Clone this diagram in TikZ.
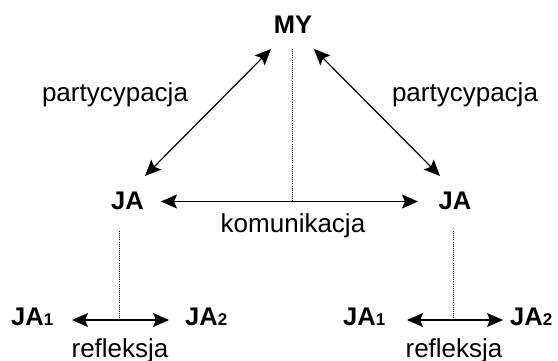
\documentclass[tikz,border=0pt]{standalone}
\usepackage{fontspec}
\setmainfont{Liberation Sans}
\usetikzlibrary{arrows.meta}
\tikzset{
  bigtext/.style={inner sep=0pt, font=\fontsize{26}{30}\selectfont},
  boldtext/.style={inner sep=0pt, font=\fontsize{25.5}{30}\selectfont\bfseries},
  tip/.style={Stealth[length=16pt,width=14pt,inset=3pt]},
  arr/.style={line width=1.2pt, {Stealth[length=16pt,width=14pt,inset=3pt]}-{Stealth[length=16pt,width=14pt,inset=3pt]}},
  dotline/.style={line width=0.8pt, dash pattern=on 0.9pt off 1.2pt}
}
\newcommand{\smalldigit}[1]{{\fontsize{17}{20}\selectfont\bfseries #1}}
\begin{document}
\begin{tikzpicture}[x=1pt,y=-1pt]
\useasboundingbox (0,0) rectangle (558,360);
\clip (0,0) rectangle (558,360);
\fill[white] (0,0) rectangle (558,360);

% top
\node[boldtext, anchor=base] (my) at (293,33) {MY};
\node[bigtext, anchor=base] (partL) at (115,101) {partycypacja};
\node[bigtext, anchor=base] (partR) at (465,101) {partycypacja};

% middle
\node[boldtext, anchor=base] (jaL) at (127.5,209) {JA};
\node[boldtext, anchor=base] (jaR) at (455,209) {JA};
\node[bigtext, anchor=base] (kom) at (293,232) {komunikacja};

% bottom
\node[boldtext, anchor=base west] (ja1L) at (11,325) {JA\smalldigit{1}};
\node[boldtext, anchor=base west] (ja2L) at (185,325) {JA\smalldigit{2}};
\node[boldtext, anchor=base west] (ja1R) at (343,325) {JA\smalldigit{1}};
\node[boldtext, anchor=base west] (ja2R) at (510,325) {JA\smalldigit{2}};
\node[bigtext, anchor=base] (refL) at (120,357) {refleksja};
\node[bigtext, anchor=base] (refR) at (454,357) {refleksja};

% connector end points
\coordinate (myL) at (271,49);
\coordinate (myR) at (314,49);
\coordinate (myB) at (292,49);
\coordinate (jaLtop) at (145,176);
\coordinate (jaRtop) at (440,176);
\coordinate (komA) at (161,201.5);
\coordinate (komB) at (418,201.5);
\coordinate (komM) at (292,201.5);
\coordinate (jaLbot) at (119.5,231);
\coordinate (jaRbot) at (453.5,231);
\coordinate (refLa) at (72,320);
\coordinate (refLb) at (169,320);
\coordinate (refLm) at (119.5,320);
\coordinate (refRa) at (407,320);
\coordinate (refRb) at (503,320);
\coordinate (refRm) at (453.5,320);

% connectors
\draw[arr] (jaLtop) -- (myL);
\draw[arr] (myR) -- (jaRtop);
\draw[arr] (komA) -- (komB);
\draw[dotline] (myB) -- (komM);
\draw[arr] (refLa) -- (refLb);
\draw[arr] (refRa) -- (refRb);
\draw[dotline] (jaLbot) -- (refLm);
\draw[dotline] (jaRbot) -- (refRm);
\end{tikzpicture}
\end{document}
